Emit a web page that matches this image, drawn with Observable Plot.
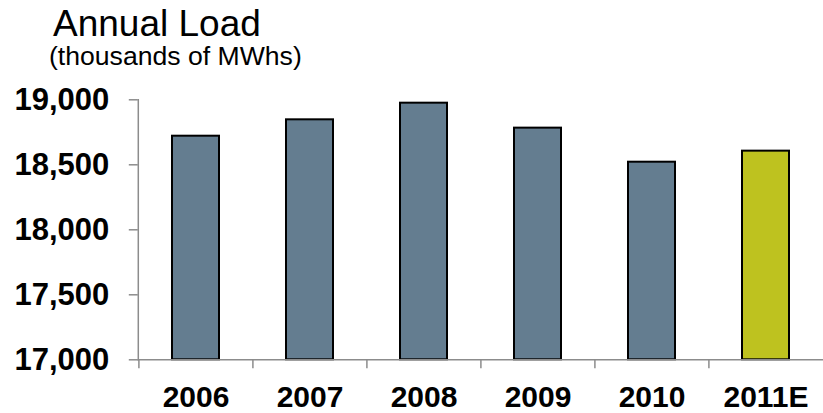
<!DOCTYPE html>
<html>
<head>
<meta charset="utf-8">
<script src="https://cdn.jsdelivr.net/npm/d3@7"></script>
<script src="https://cdn.jsdelivr.net/npm/@observablehq/plot@0.6"></script>
<style>
  body { margin: 0; background: #fff; font-family: "Liberation Sans", Arial, sans-serif; }
  #wrap { position: relative; width: 823px; height: 413px; overflow: hidden; }
  #head { position: relative; height: 80px; }
  #title { position: absolute; left: 53px; top: 5px; font-size: 37px; line-height: 1; color: #000; white-space: nowrap; }
  #subtitle { position: absolute; left: 49px; top: 43px; font-size: 26.6px; line-height: 1; color: #000; white-space: nowrap; }
  #chart svg { display: block; }
</style>
</head>
<body>
<div id="wrap">
  <div id="head">
    <div id="title">Annual Load</div>
    <div id="subtitle">(thousands of MWhs)</div>
  </div>
  <div id="chart"></div>
</div>
<script>
const years = ["2006", "2007", "2008", "2009", "2010", "2011E"];
const loads = [18720, 18846, 18974, 18782, 18520, 18605];
const kinds = ["actual", "actual", "actual", "actual", "actual", "estimate"];
const yTicks = [17000, 17500, 18000, 18500, 19000];

const data = years.map((y, i) => ({year: y, load: loads[i], kind: kinds[i]}));

const W = 823, H = 333;
const mL = 137.8, mR = 0, mT = 19.3, mB = 53.7;
const step = (W - mL - mR) / years.length;
const axisGray = "#8c8c8c";
const fontY = {fontFamily: "'Liberation Sans', Arial, sans-serif", fontSize: 31, fontWeight: "bold"};
const fontX = {fontFamily: "'Liberation Sans', Arial, sans-serif", fontSize: 30, fontWeight: "bold"};

const chart = Plot.plot({
  width: W,
  height: H,
  marginLeft: mL,
  marginRight: mR,
  marginTop: mT,
  marginBottom: mB,
  style: {fontFamily: "'Liberation Sans', Arial, sans-serif", background: "#fff", overflow: "visible"},
  x: {domain: years, paddingInner: 0.59, paddingOuter: 0.295, axis: null},
  y: {domain: [17000, 19000], axis: null},
  color: {domain: ["actual", "estimate"], range: ["#647d90", "#bec21f"]},
  marks: [
    Plot.barY(data, {x: "year", y1: 17000, y2: "load", fill: "kind", stroke: "#000", strokeWidth: 2}),
    Plot.frame({anchor: "left", stroke: axisGray, strokeWidth: 1.5}),
    Plot.frame({anchor: "bottom", stroke: axisGray, strokeWidth: 1.5}),
    Plot.axisY({ticks: yTicks, tickFormat: d3.format(","), tickSize: 9, tickPadding: 20, label: null,
      stroke: axisGray, strokeWidth: 1.5, fill: "#000", ...fontY}),
    Plot.axisX({tickSize: 9, tickFormat: () => "", label: null, dx: -step / 2, stroke: axisGray, strokeWidth: 1.5}),
    Plot.axisX({tickSize: 0, tickPadding: 26, label: null, fill: "#000", ...fontX})
  ]
});
document.getElementById("chart").appendChild(chart);
</script>
</body>
</html>
